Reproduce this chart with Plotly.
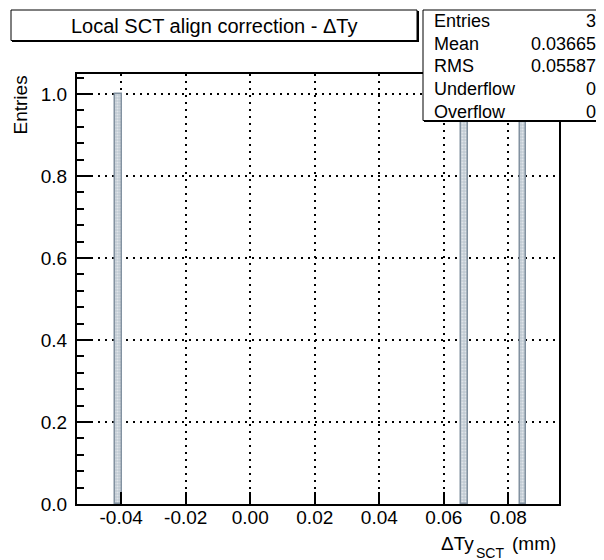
import plotly.graph_objects as go

# positions of the three entries (mm) and their counts
dty_values = [-0.0408, 0.0664, 0.0845]
entries = [1, 1, 1]

x_ticks = [-0.04, -0.02, 0.00, 0.02, 0.04, 0.06, 0.08]
x_ticktext = ["-0.04", "-0.02", "0.00", "0.02", "0.04", "0.06", "0.08"]
y_ticks = [0.0, 0.2, 0.4, 0.6, 0.8, 1.0]
y_ticktext = ["0.0", "0.2", "0.4", "0.6", "0.8", "1.0"]

stats_labels = ["Entries", "Mean", "RMS", "Underflow", "Overflow"]
stats_values = ["3", "0.03665", "0.05587", "0", "0"]

title_text = "Local SCT align correction - \u0394Ty"

# page body has an 8px margin, so the figure is shifted by that much
OFF = 8
W, H = 604 - OFF, 560 - OFF
# frame in page pixels: x 77..559, y 74..504
L, R, T, B = 77 - OFF, W - (559 - OFF), 74 - OFF, H - (504 - OFF)
pw, ph = W - L - R, H - T - B
FONT = "Liberation Sans, Arial, sans-serif"


def px(x):
    return (x - OFF - L) / pw


def py(y):
    return (H - B - (y - OFF)) / ph


def label(x, y, text, size, xanchor="left", **kw):
    return dict(xref="paper", yref="paper", x=px(x), y=py(y), text=text,
                showarrow=False, xanchor=xanchor, yanchor="middle",
                font=dict(family=FONT, size=size, color="black"), **kw)


fig = go.Figure()
fig.add_trace(go.Bar(
    x=dty_values, y=entries, width=0.002,
    marker=dict(color="#c9d2da", line=dict(color="#8291a0", width=1.5),
                pattern=dict(shape=".", fgcolor="white", bgcolor="#c0cad3", size=3, solidity=0.4)),
    showlegend=False,
))

axis_common = dict(
    showline=True, mirror=True, linecolor="black", linewidth=2,
    ticks="inside", tickcolor="black", tickwidth=1.5,
    showgrid=True, gridcolor="black", griddash="2px,5px", gridwidth=1.5,
    zeroline=False, tickfont=dict(family=FONT, size=19, color="black"),
)

fig.update_xaxes(range=[-0.0537, 0.0957], tickvals=x_ticks, ticktext=x_ticktext,
                 ticklen=12, ticklabelstandoff=-5, **axis_common)
fig.update_yaxes(range=[0, 1.049], tickvals=y_ticks, ticktext=y_ticktext, ticklen=15,
                 ticklabelstandoff=4,
                 minor=dict(dtick=0.04, ticks="inside", ticklen=7, tickcolor="black", showgrid=False),
                 **axis_common)

shapes = []
annotations = []

# title box with shadow
shapes.append(dict(type="rect", xref="paper", yref="paper",
                   x0=px(12), x1=px(419), y0=py(42), y1=py(11),
                   fillcolor="black", line=dict(width=0), layer="above"))
shapes.append(dict(type="rect", xref="paper", yref="paper",
                   x0=px(11), x1=px(417), y0=py(40.5), y1=py(10),
                   fillcolor="white", line=dict(color="black", width=1), layer="above"))
annotations.append(label(214, 26, title_text, 20, xanchor="center"))

# stats box with shadow
shapes.append(dict(type="rect", xref="paper", yref="paper",
                   x0=px(424), x1=px(605), y0=py(122), y1=py(11),
                   fillcolor="black", line=dict(width=0), layer="above"))
shapes.append(dict(type="rect", xref="paper", yref="paper",
                   x0=px(423), x1=px(603), y0=py(120.5), y1=py(10),
                   fillcolor="white", line=dict(color="black", width=1), layer="above"))
for i, (lab, val) in enumerate(zip(stats_labels, stats_values)):
    yy = 21 + i * 22.7
    annotations.append(label(432, yy, lab, 18))
    annotations.append(label(598, yy, val, 18, xanchor="right"))

# axis titles
annotations.append(dict(xref="paper", yref="paper", x=px(20), y=py(74), text="Entries",
                        textangle=-90, showarrow=False, xanchor="center", yanchor="top",
                        font=dict(family=FONT, size=19, color="black")))
# x title: "ΔTy", subscript "SCT", "(mm)" placed separately, right-aligned to the frame
annotations.append(label(558, 543, "(mm)", 19, xanchor="right"))
annotations.append(label(506, 553, "SCT", 14, xanchor="right"))
annotations.append(label(476, 543, "\u0394Ty", 19, xanchor="right"))

fig.update_layout(
    width=W, height=H, margin=dict(l=L, r=R, t=T, b=B),
    paper_bgcolor="white", plot_bgcolor="white",
    shapes=shapes, annotations=annotations, bargap=0,
)

fig.write_html("out.html")
